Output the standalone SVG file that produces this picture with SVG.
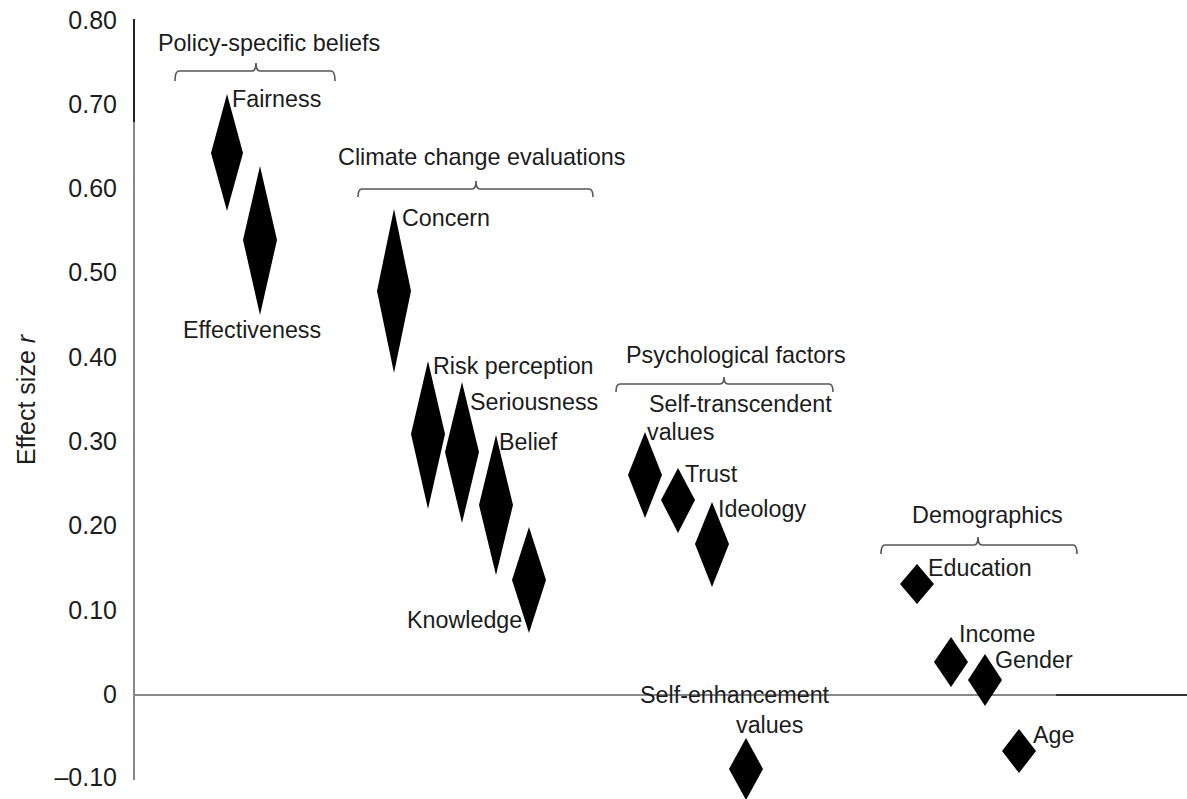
<svg xmlns="http://www.w3.org/2000/svg" width="1187" height="799" viewBox="0 0 1187 799">
<style>
text{font-family:"Liberation Sans",Arial,sans-serif;fill:#1c1c1c}
.tick{font-size:25px;text-anchor:end}
.lbl{font-size:23.3px}
.grp{font-size:23.4px}
.d{fill:#000}
.br{fill:none;stroke:#555;stroke-width:1.6}
.ax{stroke:#888;stroke-width:2;fill:none}
</style>
<rect width="1187" height="799" fill="#fff"/>
<g id="axes">
<line class="ax" x1="134" y1="19" x2="134" y2="780"/>
<line x1="134" y1="19" x2="134" y2="122" stroke="#222" stroke-width="2"/>
<line class="ax" x1="134" y1="695" x2="1187" y2="695"/>
<line x1="1056" y1="695" x2="1187" y2="695" stroke="#333" stroke-width="2"/>
<text class="tick" x="117" y="29">0.80</text>
<text class="tick" x="117" y="113">0.70</text>
<text class="tick" x="117" y="197">0.60</text>
<text class="tick" x="117" y="281">0.50</text>
<text class="tick" x="117" y="366">0.40</text>
<text class="tick" x="117" y="450">0.30</text>
<text class="tick" x="117" y="534">0.20</text>
<text class="tick" x="117" y="619">0.10</text>
<text class="tick" x="117" y="703">0</text>
<text class="tick" x="117" y="786">–0.10</text>
<text x="35" y="400" font-size="25" text-anchor="middle" transform="rotate(-90 35 400)">Effect size <tspan font-style="italic">r</tspan></text>
</g>
<g id="connectors">
<path class="br" d="M175,81 Q175,71 179,71 L252,71 Q256,71 256,63 Q256,71 260,71 L331,71 Q335,71 335,81"/>
<path class="br" d="M358,197 Q358,189 362,189 L472,189 Q476,189 476,181 Q476,189 480,189 L589,189 Q593,189 593,197"/>
<path class="br" d="M616,392 Q616,384 620,384 L720,384 Q724,384 724,377 Q724,384 728,384 L829,384 Q833,384 833,392"/>
<path class="br" d="M881,554 Q881,545 885,545 L974,545 Q978,545 978,537 Q978,545 982,545 L1073,545 Q1077,545 1077,554"/>
</g>
<g id="group-policy"><text class="grp" x="158" y="51">Policy-specific beliefs</text></g>
<g id="group-climate"><text class="grp" x="338" y="165">Climate change evaluations</text></g>
<g id="group-psych"><text class="grp" x="626" y="363">Psychological factors</text></g>
<g id="group-demo"><text class="grp" x="912" y="523">Demographics</text></g>
<g id="fairness"><polygon class="d" points="227,94 243,153 227,211 211,153"/><text class="lbl" x="232" y="107">Fairness</text></g>
<g id="effectiveness"><polygon class="d" points="260,166 277,240 260,315 243,240"/><text class="lbl" x="183" y="338">Effectiveness</text></g>
<g id="concern"><polygon class="d" points="394,209 411,291 394,373 377,291"/><text class="lbl" x="402" y="226">Concern</text></g>
<g id="risk"><polygon class="d" points="428,361 445,434 428,509 411,434"/><text class="lbl" x="433" y="374">Risk perception</text></g>
<g id="seriousness"><polygon class="d" points="462,382 479,452 462,523 445,452"/><text class="lbl" x="470" y="410">Seriousness</text></g>
<g id="belief"><polygon class="d" points="496,435 513,505 496,575 479,505"/><text class="lbl" x="499" y="450">Belief</text></g>
<g id="knowledge"><polygon class="d" points="529,527 546,580 529,633 512,580"/><text class="lbl" x="407" y="628">Knowledge</text></g>
<g id="selftrans"><polygon class="d" points="645,432 662,475 645,518 628,475"/><text class="lbl" x="649" y="412">Self-transcendent</text><text class="lbl" x="647" y="440">values</text></g>
<g id="trust"><polygon class="d" points="678,468 695,500 678,533 661,500"/><text class="lbl" x="685" y="482">Trust</text></g>
<g id="ideology"><polygon class="d" points="712,502 729,544 712,587 695,544"/><text class="lbl" x="718" y="517">Ideology</text></g>
<g id="selfenh"><polygon class="d" points="746,738 763,769 746,800 729,769"/><text class="lbl" x="640" y="703">Self-enhancement</text><text class="lbl" x="736" y="733">values</text></g>
<g id="education"><polygon class="d" points="917,564 934,584 917,604 900,584"/><text class="lbl" x="928" y="576">Education</text></g>
<g id="income"><polygon class="d" points="951,637 968,662 951,687 934,662"/><text class="lbl" x="959" y="642">Income</text></g>
<g id="gender"><polygon class="d" points="985,654 1002,680 985,706 968,680"/><text class="lbl" x="995" y="668">Gender</text></g>
<g id="age"><polygon class="d" points="1019,729 1036,751 1019,773 1002,751"/><text class="lbl" x="1033" y="743">Age</text></g>
</svg>
